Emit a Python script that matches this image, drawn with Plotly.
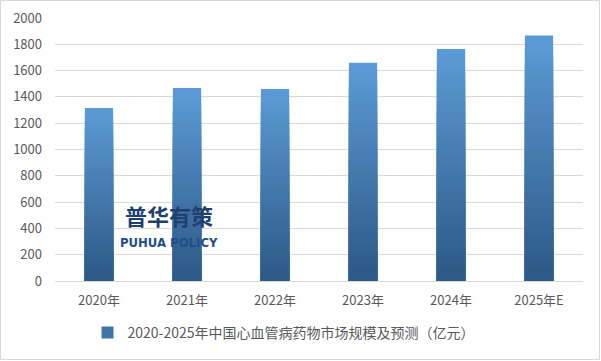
import plotly.graph_objects as go

categories = ["2020年", "2021年", "2022年", "2023年", "2024年", "2025年E"]
values = [1315, 1468, 1460, 1660, 1764, 1866]
series_name = "2020-2025年中国心血管病药物市场规模及预测（亿元）"
y_ticks = list(range(0, 2001, 200))

FONT = "Noto Sans CJK SC, Microsoft YaHei, sans-serif"

# gradient (top light -> bottom dark), simulated with overlaid bars
top_rgb = (91, 155, 213)
bot_rgb = (44, 87, 132)
N = 40

fig = go.Figure()
for k in range(N, 0, -1):
    f = k / N
    c = tuple(int(round(bot_rgb[i] + (top_rgb[i] - bot_rgb[i]) * f)) for i in range(3))
    fig.add_trace(go.Bar(
        x=categories,
        y=[v * f for v in values],
        marker=dict(color="rgb(%d,%d,%d)" % c, line=dict(width=0)),
        showlegend=False,
        hoverinfo="skip",
        name=series_name,
    ))
# legend entry
fig.add_trace(go.Bar(
    x=categories, y=[0] * len(values), name=series_name,
    marker=dict(color="rgb(62,116,168)", line=dict(width=0)),
    showlegend=True, hoverinfo="skip",
))

L, R, T, B = 55, 18, 18, 80
W, H = 601, 361
pw = W - L - R
ph = H - T - B

fig.update_layout(
    width=W, height=H,
    margin=dict(l=L, r=R, t=T, b=B, autoexpand=False),
    barmode="overlay",
    bargap=0.68,
    paper_bgcolor="white",
    plot_bgcolor="white",
    font=dict(family=FONT, size=13, color="#595959"),
    xaxis=dict(
        showgrid=False, showline=True, linecolor="#D9D9D9", linewidth=1,
        ticks="", tickfont=dict(size=13, color="#595959"), ticklabelstandoff=7,
    ),
    yaxis=dict(
        range=[0, 2000], tickvals=y_ticks, showgrid=True, gridcolor="#D9D9D9",
        gridwidth=1, zeroline=False, showline=False, ticks="",
        tickfont=dict(size=13, color="#595959"), ticklabelstandoff=12,
    ),
    legend=dict(
        orientation="h", x=(284 - L) / pw, xanchor="center",
        y=(H - B - 333) / ph, yanchor="middle", itemwidth=30,
        font=dict(size=14, color="#595959"), bgcolor="rgba(0,0,0,0)",
    ),
    shapes=[dict(
        type="rect", xref="paper", yref="paper",
        x0=(0.5 - L) / pw, x1=(W - 1.5 - L) / pw,
        y0=(H - B - (H - 1.5)) / ph, y1=(H - B - 0.5) / ph,
        line=dict(color="#D9D9D9", width=1), fillcolor="rgba(0,0,0,0)",
        layer="below",
    )],
    annotations=[
        dict(text="<b>普华有策</b>", xref="paper", yref="paper",
             x=(169 - L) / pw, y=(H - B - 215) / ph, showarrow=False,
             font=dict(family=FONT, size=22, color="#1F3F6E"),
             xanchor="center", yanchor="middle"),
        dict(text="<b>PUHUA POLICY</b>", xref="paper", yref="paper",
             x=(169 - L) / pw, y=(H - B - 242) / ph, showarrow=False,
             font=dict(family="Liberation Sans Narrow, DejaVu Sans Condensed, sans-serif", size=13, color="#1F4E8C"),
             xanchor="center", yanchor="middle"),
    ],
)

fig.write_html("out.html", config={"displayModeBar": False},
               post_script="document.body.style.margin='0';")
